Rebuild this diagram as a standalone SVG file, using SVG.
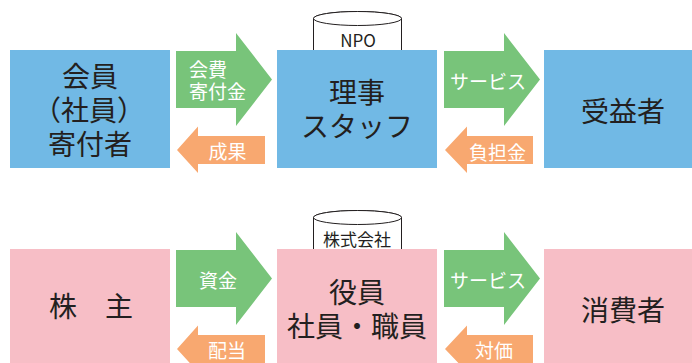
<svg xmlns="http://www.w3.org/2000/svg" width="692" height="363" viewBox="0 0 692 363">
<style>
.blue{fill:#71B9E5}
.pink{fill:#F7BEC6}
.green{fill:#78C47A}
.orange{fill:#F8A870}
.cyl{fill:#fff;stroke:#231F20;stroke-width:1}
text{font-family:"Noto Sans CJK JP","Noto Sans",sans-serif;dominant-baseline:central}
.big{font-size:28px;fill:#231F20;text-anchor:middle}
.lbl{font-size:19px;fill:#fff;text-anchor:middle}
.tag{font-size:17px;fill:#231F20;text-anchor:middle}
</style>
<rect width="692" height="363" fill="#fff"/>
<g id="npo">
<path class="cyl" d="M313.5,52 V18.5 A44,7 0 0 1 401.5,18.5 V52"/>
<ellipse class="cyl" cx="357.5" cy="18.5" rx="44" ry="7"/>
<text class="tag" x="358" y="39">NPO</text>
</g>
<g id="kabushiki">
<path class="cyl" d="M313.5,251 V217.5 A44,7 0 0 1 401.5,217.5 V251"/>
<ellipse class="cyl" cx="357.5" cy="217.5" rx="44" ry="7"/>
<text class="tag" x="357" y="238.5">株式会社</text>
</g>
<g id="donor">
<rect class="blue" x="10" y="50" width="160" height="118"/>
<text class="big" x="90" y="75">会員</text>
<text class="big" x="89" y="109">（社員）</text>
<text class="big" x="90" y="143">寄付者</text>
</g>
<g id="staff">
<rect class="blue" x="277" y="50" width="160" height="118"/>
<text class="big" x="357" y="90.5">理事</text>
<text class="big" x="357" y="125">スタッフ</text>
</g>
<g id="beneficiary">
<rect class="blue" x="544" y="50" width="160" height="118"/>
<text class="big" x="623" y="110">受益者</text>
</g>
<g id="shareholder">
<rect class="pink" x="10" y="249" width="160" height="120"/>
<text class="big" x="91" y="305">株　主</text>
</g>
<g id="employees">
<rect class="pink" x="277" y="249" width="160" height="120"/>
<text class="big" x="357" y="290.5">役員</text>
<text class="big" x="357" y="324.5">社員・職員</text>
</g>
<g id="consumer">
<rect class="pink" x="544" y="249" width="160" height="120"/>
<text class="big" x="623" y="309">消費者</text>
</g>
<g id="connectors">
<polygon class="green" points="176,51 236,51 236,33 272,79.5 236,126 236,108 176,108"/>
<polygon class="green" points="444,51 504,51 504,33 540,79.5 504,126 504,108 444,108"/>
<polygon class="orange" points="265,136 198,136 198,126.5 177,150 198,173 198,164 265,164"/>
<polygon class="orange" points="533,136 467,136 467,126.5 445,150 467,173 467,164 533,164"/>
<polygon class="green" points="176,250 236,250 236,232 272,278.5 236,325 236,307 176,307"/>
<polygon class="green" points="444,250 504,250 504,232 540,278.5 504,325 504,307 444,307"/>
<polygon class="orange" points="265,335 198,335 198,325.5 177,349 198,372 198,363 265,363"/>
<polygon class="orange" points="533,335 467,335 467,325.5 445,349 467,372 467,363 533,363"/>
<text class="lbl" x="189" y="68" style="text-anchor:start">会費</text>
<text class="lbl" x="189" y="90.5" style="text-anchor:start">寄付金</text>
<text class="lbl" x="488" y="80">サービス</text>
<text class="lbl" x="227.5" y="150.5">成果</text>
<text class="lbl" x="497.5" y="151">負担金</text>
<text class="lbl" x="218" y="279">資金</text>
<text class="lbl" x="488" y="279">サービス</text>
<text class="lbl" x="227" y="349">配当</text>
<text class="lbl" x="494" y="349">対価</text>
</g>
</svg>
